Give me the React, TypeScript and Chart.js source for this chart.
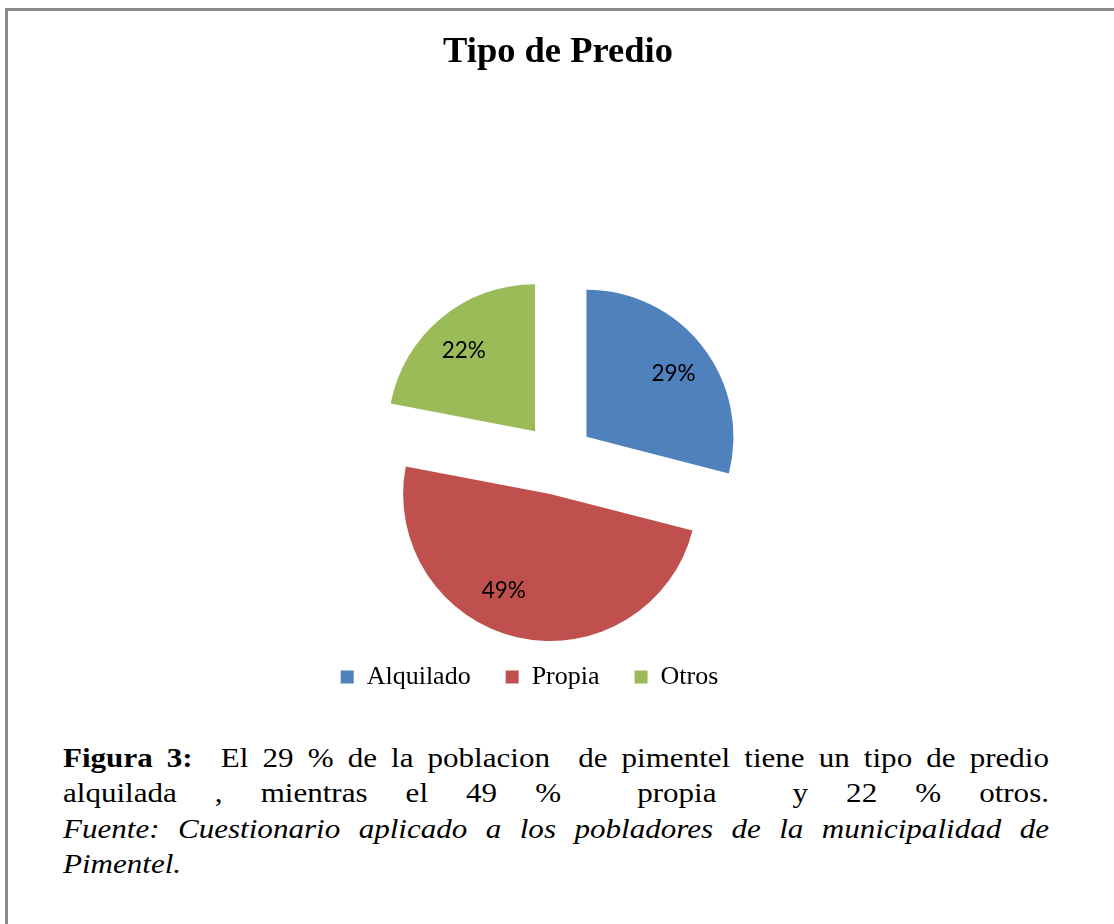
import React, { useEffect, useRef } from "react";
import { Chart, registerables } from "chart.js";

Chart.register(...registerables);

const categories = ["Alquilado", "Propia", "Otros"];
const values = [29, 49, 22];
const sliceColors = ["#4F81BD", "#C0504D", "#9BBB59"];
const chartTitle = "Tipo de Predio";

const SERIF = '"Liberation Serif", "Times New Roman", Times, serif';
const SANS = 'Lato, "Open Sans", "Noto Sans", sans-serif';

// style-only settings (not data)
const EXPLODE = 36;
const LABEL_FACTOR = 0.73;
const LABEL_ANGLE_SHIFT = [2, 13, -2]; // degrees

const explodePlugin = {
  id: "explode",
  beforeDatasetDraw(chart: any, args: any, opts: any) {
    const ctx = chart.ctx;
    const d = opts.distance || 0;
    args.meta.data.forEach((arc: any) => {
      const p = arc.getProps(["startAngle", "endAngle"], true);
      const mid = (p.startAngle + p.endAngle) / 2;
      ctx.save();
      ctx.translate(Math.cos(mid) * d, Math.sin(mid) * d);
      arc.draw(ctx);
      ctx.restore();
    });
    return false;
  },
};

const sliceLabelPlugin = {
  id: "sliceLabels",
  afterDatasetsDraw(chart: any, _args: any, opts: any) {
    const ctx = chart.ctx;
    const meta = chart.getDatasetMeta(0);
    const data = chart.data.datasets[0].data as number[];
    const total = data.reduce((a, b) => a + b, 0);
    ctx.save();
    ctx.font = `${opts.size}px ${SANS}`;
    ctx.fillStyle = "#000";
    ctx.textAlign = "center";
    ctx.textBaseline = "middle";
    meta.data.forEach((arc: any, i: number) => {
      const p = arc.getProps(["x", "y", "startAngle", "endAngle", "outerRadius"], true);
      const mid = (p.startAngle + p.endAngle) / 2;
      const la = mid + ((opts.shift[i] || 0) * Math.PI) / 180;
      const px = p.x + Math.cos(mid) * opts.distance + Math.cos(la) * p.outerRadius * opts.factor;
      const py = p.y + Math.sin(mid) * opts.distance + Math.sin(la) * p.outerRadius * opts.factor;
      ctx.fillText(Math.round((data[i] / total) * 100) + "%", px, py);
    });
    ctx.restore();
  },
};

export default function App() {
  const canvasRef = useRef<HTMLCanvasElement | null>(null);

  useEffect(() => {
    if (!canvasRef.current) return;
    const chart = new Chart(canvasRef.current, {
      type: "pie",
      data: {
        labels: categories,
        datasets: [
          {
            data: values,
            backgroundColor: sliceColors,
            borderWidth: 0,
            hoverOffset: 0,
            radius: 147,
          } as any,
        ],
      },
      options: {
        responsive: false,
        animation: false,
        devicePixelRatio: 1,
        layout: { padding: { left: 0, right: 63, top: 0, bottom: 0 } },
        scales: {
          spacer: {
            type: "linear",
            position: "left",
            display: true,
            ticks: { display: false },
            grid: { display: false, drawTicks: false },
            border: { display: false },
            afterFit: (s: any) => {
              s.width = 57;
            },
          },
        } as any,
        plugins: {
          title: {
            display: true,
            text: chartTitle,
            color: "#000",
            fullSize: false,
            font: { family: SERIF, size: 36.5, weight: "bold" },
            padding: { top: 20, bottom: 214 },
          },
          legend: {
            display: true,
            position: "bottom",
            labels: {
              boxWidth: 13,
              boxHeight: 13,
              padding: 35,
              color: "#000",
              font: { family: SERIF, size: 26 },
            },
          },
          tooltip: { enabled: false },
          explode: { distance: EXPLODE },
          sliceLabels: {
            distance: EXPLODE,
            factor: LABEL_FACTOR,
            shift: LABEL_ANGLE_SHIFT,
            size: 22.5,
          },
        } as any,
      },
      plugins: [explodePlugin, sliceLabelPlugin],
    });
    return () => chart.destroy();
  }, []);

  const lineStyle: React.CSSProperties = {
    textAlign: "justify",
    textAlignLast: "justify" as any,
    whiteSpace: "nowrap",
  };

  const SCALE_X = 1.15;
  const CAPTION_W = 986;
  const FRAME = "#8c8c8c";

  return (
    <div
      style={{
        position: "fixed",
        left: 5,
        top: 8,
        width: 1109,
        height: 916,
        background: "#fff",
        overflow: "hidden",
      }}
    >
      {/* frame lines */}
      <div style={{ position: "absolute", left: 0, top: 0, width: 1109, height: 3, background: FRAME }} />
      <div style={{ position: "absolute", left: 0, top: 0, width: 3, height: 916, background: FRAME }} />
      <div style={{ position: "absolute", left: 3, top: 3, width: 1106, height: 900 }}>
        <canvas ref={canvasRef} width={1106} height={689} style={{ display: "block" }} />
        <div
          style={{
            position: "absolute",
            left: 55,
            top: 730,
            width: CAPTION_W / SCALE_X,
            transform: `scaleX(${SCALE_X})`,
            transformOrigin: "0 0",
            fontFamily: SERIF,
            fontSize: 27,
            lineHeight: "35.3px",
            color: "#000",
          }}
        >
          <div style={lineStyle}>
            <b>Figura 3:</b>&nbsp; El 29 % de la poblacion&nbsp; de pimentel tiene un tipo de predio
          </div>
          <div style={lineStyle}>alquilada , mientras el 49 %&nbsp; propia&nbsp; y 22 % otros.</div>
          <div style={{ ...lineStyle, fontStyle: "italic" }}>
            Fuente: Cuestionario aplicado a los pobladores de la municipalidad de
          </div>
          <div style={{ fontStyle: "italic" }}>Pimentel.</div>
        </div>
      </div>
    </div>
  );
}
